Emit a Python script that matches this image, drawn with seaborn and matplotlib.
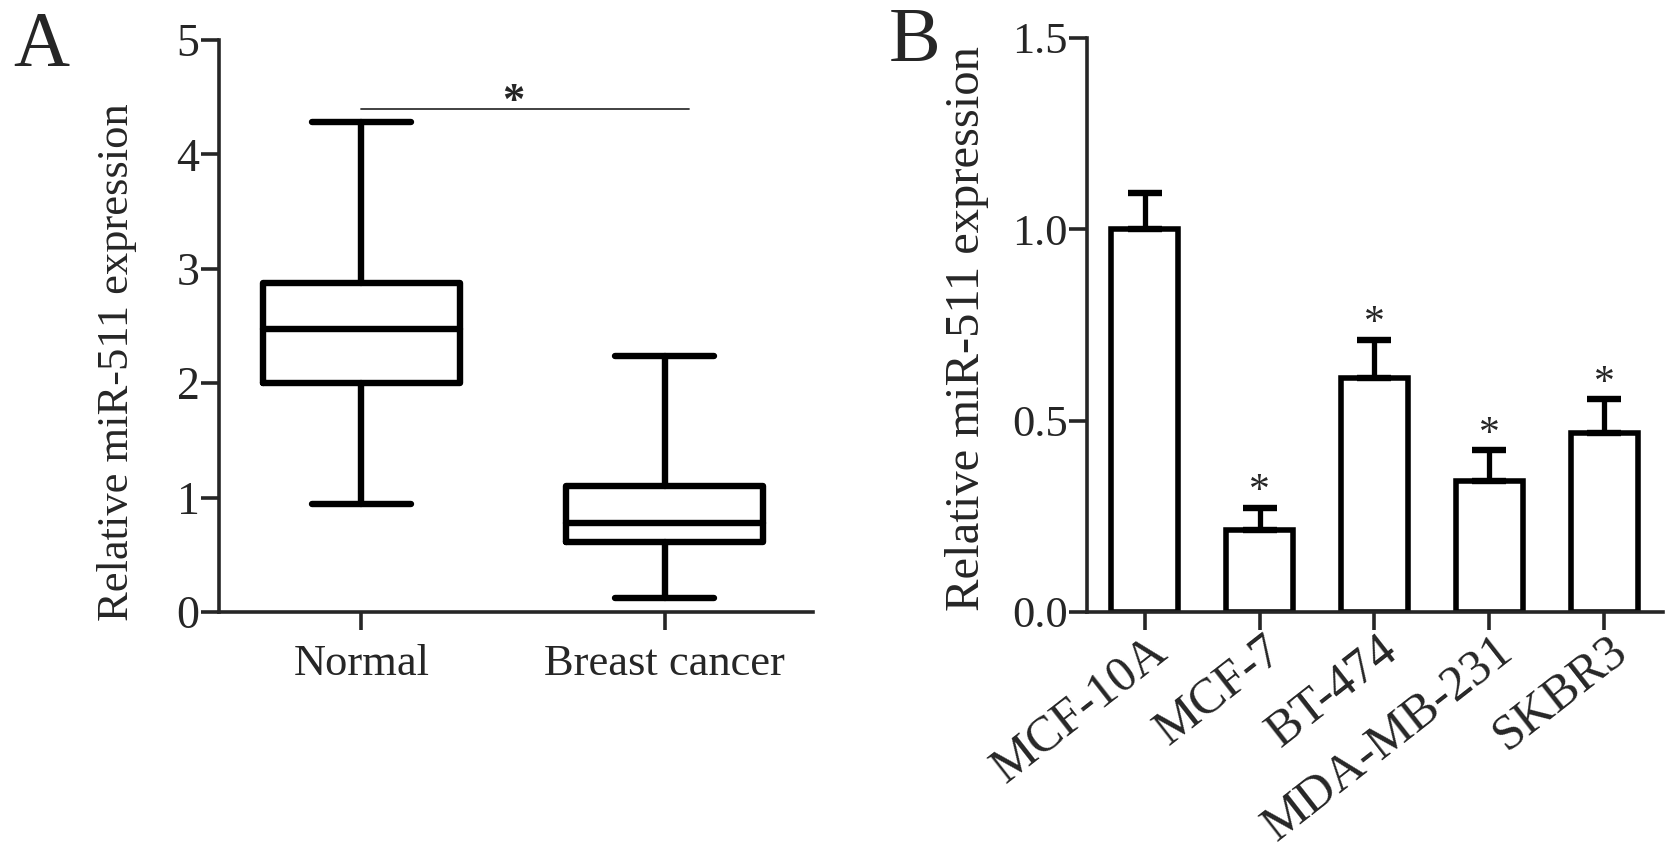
import numpy as np
import pandas as pd
import matplotlib
matplotlib.use("Agg")
import matplotlib.pyplot as plt
import matplotlib.transforms as mtransforms
import seaborn as sns

# panel A: five-number summaries (min, Q1, median, Q3, max)
groups = ["Normal", "Breast cancer"]
normal_summary = [0.94, 2.00, 2.47, 2.88, 4.28]
cancer_summary = [0.12, 0.61, 0.78, 1.10, 2.24]

# panel B: mean and upper error for each cell line
cell_lines = ["MCF-10A", "MCF-7", "BT-474", "MDA-MB-231", "SKBR3"]
means = [1.00, 0.215, 0.612, 0.342, 0.467]
errors = [0.094, 0.058, 0.100, 0.080, 0.090]
marks = ["", "*", "*", "*", "*"]

ylabel = "Relative miR-511 expression"

sns.set_style("ticks")
plt.rcParams["font.family"] = ["Liberation Serif", "DejaVu Serif"]
plt.rcParams["axes.linewidth"] = 2.6
plt.rcParams["xtick.major.width"] = 2.6
plt.rcParams["ytick.major.width"] = 2.6
plt.rcParams["xtick.major.size"] = 13
plt.rcParams["ytick.major.size"] = 13

fig = plt.figure(figsize=(16.77, 8.57), dpi=100)
ax1 = fig.add_axes([0.1306, 0.2859, 0.4848 - 0.1306, 0.9533 - 0.2859])
ax2 = fig.add_axes([0.6482, 0.2859, 0.9917 - 0.6482, 0.9557 - 0.2859])

# --- A: box plot
box_df = pd.DataFrame({
    "group": [groups[0]] * 5 + [groups[1]] * 5,
    "value": normal_summary + cancer_summary,
})
sns.boxplot(data=box_df, x="group", y="value", ax=ax1, whis=(0, 100),
            width=0.65, fill=False, color="black", linecolor="black",
            linewidth=4.6, showfliers=False)
for ln in ax1.lines:
    ln.set_solid_capstyle("round")
ax1.set_xlim(-0.47, 1.49)
ax1.set_ylim(0, 5)
ax1.set_yticks([0, 1, 2, 3, 4, 5])
ax1.set_xlabel("")
ax1.set_ylabel(ylabel, fontsize=32)
ax1.yaxis.set_label_coords(-0.138, 0.437)
ax1.tick_params(axis="y", labelsize=33, pad=1)
ax1.tick_params(axis="x", labelsize=32, pad=10)
ax1.plot([0.0, 1.08], [4.40, 4.40], color="#333333", lw=1.3)
ax1.text(0.5, 4.28, "*", ha="center", va="bottom", fontsize=32, fontweight="bold")
sns.despine(ax=ax1)

# --- B: bar plot with upper error bars
sns.barplot(x=cell_lines, y=means, ax=ax2, color="white", edgecolor="black",
            linewidth=4.0, width=0.58, errorbar=None, saturation=1)
pos = np.arange(len(cell_lines))
ax2.errorbar(pos, means, yerr=[np.zeros(len(means)), errors], fmt="none",
             ecolor="black", elinewidth=3.8, capsize=12, capthick=4.6, zorder=1)
for x, m, e, s in zip(pos, means, errors, marks):
    if s:
        ax2.text(x, m + e - 0.01, s, ha="center", va="bottom", fontsize=30)
ax2.set_xlim(-0.5, 4.51)
ax2.set_ylim(0, 1.5)
ax2.set_yticks([0, 0.5, 1.0, 1.5])
ax2.set_yticklabels(["0.0", "0.5", "1.0", "1.5"])
ax2.set_ylabel(ylabel, fontsize=35)
ax2.yaxis.set_label_coords(-0.170, 0.493)
ax2.tick_params(axis="y", labelsize=32, pad=1)
ax2.tick_params(axis="x", labelsize=36, pad=18)
shift = mtransforms.ScaledTranslation(25 / 100, 0, fig.dpi_scale_trans)
for lab in ax2.get_xticklabels():
    lab.set_rotation(38)
    lab.set_ha("right")
    lab.set_va("baseline")
    lab.set_rotation_mode("anchor")
    lab.set_transform(lab.get_transform() + shift)
sns.despine(ax=ax2)

fig.text(0.008, 0.988, "A", fontsize=56, va="top", ha="left")
fig.text(0.530, 0.992, "B", fontsize=56, va="top", ha="left")

fig.savefig("out.png", dpi=100)
